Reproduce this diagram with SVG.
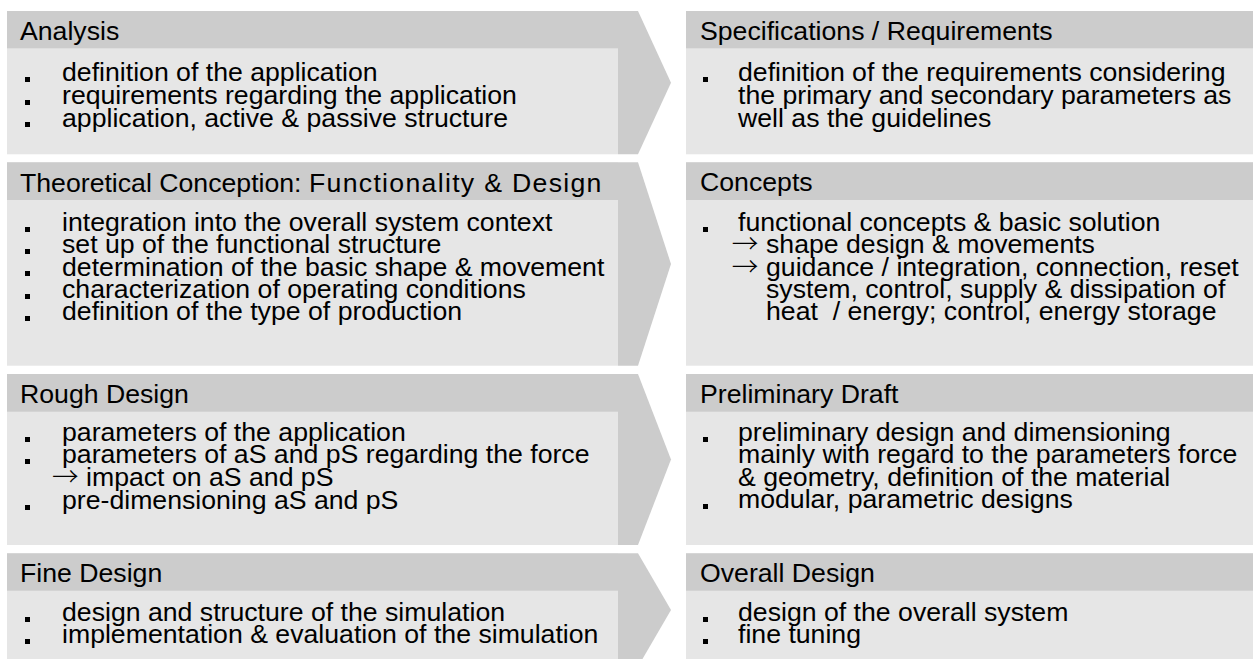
<svg xmlns="http://www.w3.org/2000/svg" width="1253" height="659" viewBox="0 0 1253 659">
  <style>
    .hd { fill: #cccccc; }
    .bd { fill: #e6e6e6; }
    .chev { fill: #cccccc; }
    text { font-family: "Liberation Sans", Arial, sans-serif; font-size: 26.67px; fill: #000000; white-space: pre; }
    text.arw { font-family: "Noto Sans CJK SC", "DejaVu Sans", sans-serif; font-weight: 300; }
    .blt { fill: #000000; }
  </style>
  <rect width="1253" height="659" fill="#ffffff"/>

  <!-- Step arrows between the phase column and the result column -->
  <g id="connectors">
    <polygon class="chev" points="618,11 638,11 671,82.7 638,154.3 618,154.3"/>
    <polygon class="chev" points="618,162.3 638,162.3 671,264 638,365.7 618,365.7"/>
    <polygon class="chev" points="618,374 638,374 671,459.5 638,545 618,545"/>
    <polygon class="chev" points="618,553.3 638,553.3 671,610 638,666.7 618,666.7"/>
  </g>

  <!-- Phase 1 -->
  <g id="analysis">
    <rect class="bd" x="7" y="11" width="611" height="143.3"/>
    <rect class="hd" x="7" y="11" width="611" height="37.3"/>
    <text x="20" y="39.5">Analysis</text>
    <rect class="blt" x="25" y="77" width="5" height="5"/>
    <text x="62" y="81.3">definition of the application</text>
    <rect class="blt" x="25" y="100" width="5" height="5"/>
    <text x="62" y="104">requirements regarding the application</text>
    <rect class="blt" x="25" y="122" width="5" height="5"/>
    <text x="62" y="126.7">application, active &amp; passive structure</text>
  </g>

  <g id="specifications">
    <rect class="bd" x="686" y="11" width="567" height="143.3"/>
    <rect class="hd" x="686" y="11" width="567" height="37.3"/>
    <text x="700" y="39.5">Specifications / Requirements</text>
    <rect class="blt" x="703" y="77" width="5" height="5"/>
    <text x="738" y="81.3">definition of the requirements considering</text>
    <text x="738" y="104">the primary and secondary parameters as</text>
    <text x="738" y="126.7">well as the guidelines</text>
  </g>

  <!-- Phase 2 -->
  <g id="theoretical-conception">
    <rect class="bd" x="7" y="162.3" width="611" height="203.4"/>
    <rect class="hd" x="7" y="162.3" width="611" height="37.7"/>
    <text x="20" y="191.6">Theoretical Conception: <tspan letter-spacing="1.3">Functionality &amp; Design</tspan></text>
    <rect class="blt" x="25" y="227" width="5" height="5"/>
    <text x="62" y="231">integration into the overall system context</text>
    <rect class="blt" x="25" y="249" width="5" height="5"/>
    <text x="62" y="253.3">set up of the functional structure</text>
    <rect class="blt" x="25" y="271" width="5" height="5"/>
    <text x="62" y="275.7">determination of the basic shape &amp; movement</text>
    <rect class="blt" x="25" y="294" width="5" height="5"/>
    <text x="62" y="298.1">characterization of operating conditions</text>
    <rect class="blt" x="25" y="316" width="5" height="5"/>
    <text x="62" y="320.4">definition of the type of production</text>
  </g>

  <g id="concepts">
    <rect class="bd" x="686" y="162.3" width="567" height="203.4"/>
    <rect class="hd" x="686" y="162.3" width="567" height="37.7"/>
    <text x="700" y="191.2">Concepts</text>
    <rect class="blt" x="703" y="227" width="5" height="5"/>
    <text x="738" y="231">functional concepts &amp; basic solution</text>
    <text class="arw" x="731.7" y="253.3">→</text>
    <text x="766" y="253.3">shape design &amp; movements</text>
    <text class="arw" x="731.7" y="275.8">→</text>
    <text x="766" y="275.8">guidance / integration, connection, reset</text>
    <text x="766" y="298.2">system, control, supply &amp; dissipation of</text>
    <text x="766" y="320.4">heat  / energy; control, energy storage</text>
  </g>

  <!-- Phase 3 -->
  <g id="rough-design">
    <rect class="bd" x="7" y="374" width="611" height="171"/>
    <rect class="hd" x="7" y="374" width="611" height="37.7"/>
    <text x="20" y="402.7">Rough Design</text>
    <rect class="blt" x="25" y="437" width="5" height="5"/>
    <text x="62" y="441">parameters of the application</text>
    <rect class="blt" x="25" y="459" width="5" height="5"/>
    <text x="62" y="463.3">parameters of aS and pS regarding the force</text>
    <text class="arw" x="52" y="486.3">→</text>
    <text x="86" y="486.3">impact on aS and pS</text>
    <rect class="blt" x="25" y="505" width="5" height="5"/>
    <text x="62" y="509">pre-dimensioning aS and pS</text>
  </g>

  <g id="preliminary-draft">
    <rect class="bd" x="686" y="374" width="567" height="171"/>
    <rect class="hd" x="686" y="374" width="567" height="37.7"/>
    <text x="700" y="402.5">Preliminary Draft</text>
    <rect class="blt" x="703" y="437" width="5" height="5"/>
    <text x="738" y="441">preliminary design and dimensioning</text>
    <text x="738" y="463.4">mainly with regard to the parameters force</text>
    <text x="738" y="485.8">&amp; geometry, definition of the material</text>
    <rect class="blt" x="703" y="504" width="5" height="5"/>
    <text x="738" y="508.3">modular, parametric designs</text>
  </g>

  <!-- Phase 4 -->
  <g id="fine-design">
    <rect class="bd" x="7" y="553.3" width="611" height="113.4"/>
    <rect class="hd" x="7" y="553.3" width="611" height="37.4"/>
    <text x="20" y="582.3">Fine Design</text>
    <rect class="blt" x="25" y="617" width="5" height="5"/>
    <text x="62" y="621">design and structure of the simulation</text>
    <rect class="blt" x="25" y="639" width="5" height="5"/>
    <text x="62" y="643.3">implementation &amp; evaluation of the simulation</text>
  </g>

  <g id="overall-design">
    <rect class="bd" x="686" y="553.3" width="567" height="113.4"/>
    <rect class="hd" x="686" y="553.3" width="567" height="37.4"/>
    <text x="700" y="582.3">Overall Design</text>
    <rect class="blt" x="703" y="617" width="5" height="5"/>
    <text x="738" y="621">design of the overall system</text>
    <rect class="blt" x="703" y="639" width="5" height="5"/>
    <text x="738" y="643.3">fine tuning</text>
  </g>
</svg>
